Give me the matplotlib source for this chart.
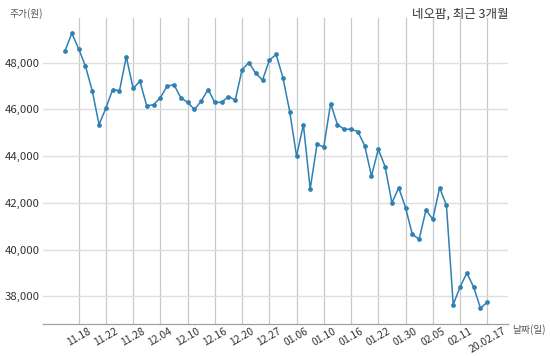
#!/usr/bin/env python3
"""
Neopharm stock price, last 3 months (line chart)
"""
import matplotlib
matplotlib.use('Agg')
import matplotlib.pyplot as plt
from matplotlib.ticker import FuncFormatter

plt.rcParams['font.family'] = ['Noto Sans CJK KR', 'DejaVu Sans']

# trading days (2019.11.14 ~ 2020.02.17)
dates = ['11.14', '11.15', '11.18', '11.19', '11.20', '11.21', '11.22', '11.25',
         '11.26', '11.27', '11.28', '11.29', '12.02', '12.03', '12.04', '12.05',
         '12.06', '12.09', '12.10', '12.11', '12.12', '12.13', '12.16', '12.17',
         '12.18', '12.19', '12.20', '12.23', '12.24', '12.26', '12.27', '12.30',
         '01.02', '01.03', '01.06', '01.07', '01.08', '01.09', '01.10', '01.13',
         '01.14', '01.15', '01.16', '01.17', '01.20', '01.21', '01.22', '01.23',
         '01.28', '01.29', '01.30', '01.31', '02.03', '02.04', '02.05', '02.06',
         '02.07', '02.10', '02.11', '02.12', '02.13', '02.14', '02.17']

prices = [48500, 49250, 48600, 47850, 46800, 45350, 46050, 46850,
          46800, 48250, 46900, 47200, 46150, 46200, 46500, 47000,
          47050, 46500, 46300, 46000, 46350, 46850, 46300, 46300,
          46550, 46400, 47700, 48000, 47550, 47250, 48100, 48350,
          47350, 45900, 44000, 45350, 42600, 44500, 44400, 46250,
          45350, 45150, 45150, 45050, 44450, 43150, 44300, 43550,
          42000, 42650, 41800, 40650, 40450, 41700, 41300, 42650,
          41900, 37650, 38400, 39000, 38400, 37500, 37750]

tick_dates = ['11.18', '11.22', '11.28', '12.04', '12.10', '12.16', '12.20', '12.27',
              '01.06', '01.10', '01.16', '01.22', '01.30', '02.05', '02.11', '02.17']
tick_labels = ['11.18', '11.22', '11.28', '12.04', '12.10', '12.16', '12.20', '12.27',
               '01.06', '01.10', '01.16', '01.22', '01.30', '02.05', '02.11', '20.02.17']
y_ticks = [38000, 40000, 42000, 44000, 46000, 48000]

fig = plt.figure(figsize=(5.5, 3.56), dpi=100)
ax = fig.add_axes([0.0778, 0.0885, 0.8458, 0.8604])

x = list(range(len(dates)))
ax.plot(x, prices, color='#2f80b3', linewidth=1.1, marker='o', markersize=2.4,
        zorder=3)

ax.set_xlim(-3.26, 65.04)
ax.set_ylim(36800, 49900)

ax.set_xticks([dates.index(d) for d in tick_dates])
ax.set_xticklabels(tick_labels, rotation=30, ha='center', fontsize=7.5,
                   color='#333333')
ax.set_yticks(y_ticks)
ax.yaxis.set_major_formatter(FuncFormatter(lambda v, p: f'{int(v):,}'))
ax.tick_params(axis='y', length=0, pad=2.5, labelsize=8.2, labelcolor='#333333')
ax.tick_params(axis='x', length=0, pad=1)

ax.grid(axis='x', color='#c8c8c8', linewidth=0.9)
ax.grid(axis='y', color='#dedede', linewidth=1.0)
ax.set_axisbelow(True)

for s in ['top', 'right', 'left']:
    ax.spines[s].set_visible(False)
ax.spines['bottom'].set_color('#a0a0a0')
ax.spines['bottom'].set_linewidth(0.9)

fig.text(10 / 550, 1 - 14 / 356, '주가(원)', fontsize=7, color='#555555',
         va='center', ha='left')
fig.text(508 / 550, 1 - 14 / 356, '네오팜, 최근 3개월', fontsize=9,
         color='#333333', va='center', ha='right')
fig.text(512 / 550, 1 - 330 / 356, '날짜(일)', fontsize=7, color='#555555',
         va='center', ha='left')

fig.savefig('out.png', dpi=100)
